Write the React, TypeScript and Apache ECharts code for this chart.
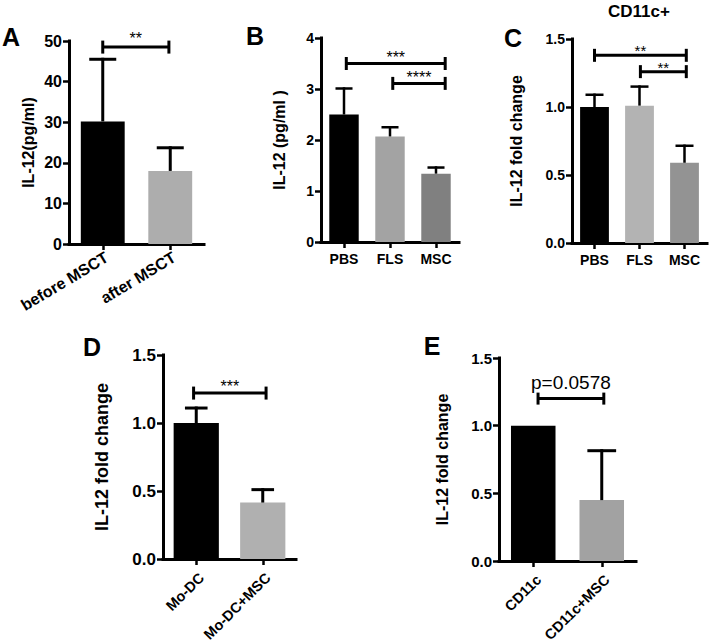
import React, { useEffect, useRef } from "react";
import * as echarts from "echarts";

const FONT = "'Liberation Sans', Arial, Helvetica, sans-serif";

// ---- Panel A ----
const catsA = ["before MSCT", "after MSCT"];
const meanA = [30.2, 18.0];
const semA = [15.3, 5.7];
const colorsA = ["#000000", "#adadad"];
const yTicksA = [0, 50, 10];
const sigA = [{ from: 0, to: 0.98, y: 48.5, label: "**" }];

// ---- Panel B ----
const catsB = ["PBS", "FLS", "MSC"];
const meanB = [2.5, 2.07, 1.34];
const semB = [0.51, 0.18, 0.12];
const colorsB = ["#000000", "#a3a3a3", "#808080"];
const yTicksB = [0, 4, 1];
const sigB = [
  { from: 0.05, to: 2.2, y: 3.5, label: "***" },
  { from: 1.06, to: 2.2, y: 3.11, label: "****" },
];

// ---- Panel C ----
const catsC = ["PBS", "FLS", "MSC"];
const meanC = [1.0, 1.01, 0.59];
const semC = [0.09, 0.14, 0.125];
const colorsC = ["#000000", "#b3b3b3", "#939393"];
const yTicksC = [0, 1.5, 0.5];
const sigC = [
  { from: 0, to: 2.04, y: 1.38, label: "**" },
  { from: 1.02, to: 2.04, y: 1.26, label: "**" },
];

// ---- Panel D ----
const catsD = ["Mo-DC", "Mo-DC+MSC"];
const meanD = [1.0, 0.415];
const semD = [0.11, 0.095];
const colorsD = ["#000000", "#b0b0b0"];
const yTicksD = [0, 1.5, 0.5];
const sigD = [{ from: -0.04, to: 1.05, y: 1.22, label: "***" }];

// ---- Panel E ----
const catsE = ["CD11c", "CD11c+MSC"];
const meanE = [1.0, 0.45];
const semE = [0, 0.365];
const colorsE = ["#000000", "#a2a2a2"];
const yTicksE = [0, 1.5, 0.5];
const sigE = [{ from: 0.07, to: 1.03, y: 1.2, label: "p=0.0578" }];

type Panel = {
  cats: string[];
  mean: number[];
  sem: number[];
  colors: string[];
  ticks: number[];
  sig: { from: number; to: number; y: number; label: string }[];
  grid: { left: number; top: number; width: number; height: number };
  yName: string;
  nameGap: number;
  nameSize: number;
  tickSize: number;
  catSize: number;
  rotate: number;
  catMargin: number;
  barWidth: string;
  capFrac: number;
  errLw: number;
  fmt?: (v: number) => string;
  sigFont: string;
  sigDy: number;
  sigTick: number;
};

const fold = (v: number) => v.toFixed(1);

const panels: Panel[] = [
  {
    cats: catsA, mean: meanA, sem: semA, colors: colorsA, ticks: yTicksA, sig: sigA,
    grid: { left: 69, top: 41, width: 135, height: 203 },
    yName: "IL-12(pg/ml)", nameGap: 33, nameSize: 16, tickSize: 16, catSize: 16, rotate: 31, catMargin: 5,
    barWidth: "65%", capFrac: 0.4, errLw: 3, sigFont: "normal 16px " + FONT, sigDy: 1, sigTick: 6.5,
  },
  {
    cats: catsB, mean: meanB, sem: semB, colors: colorsB, ticks: yTicksB, sig: sigB,
    grid: { left: 321, top: 38, width: 138, height: 204 },
    yName: "IL-12 (pg/ml )", nameGap: 34, nameSize: 16, tickSize: 14, catSize: 14, rotate: 0, catMargin: 10,
    barWidth: "64%", capFrac: 0.37, errLw: 2.5, sigFont: "normal 16px " + FONT, sigDy: -2, sigTick: 6.5,
  },
  {
    cats: catsC, mean: meanC, sem: semC, colors: colorsC, ticks: yTicksC, sig: sigC, fmt: fold,
    grid: { left: 572, top: 39, width: 135, height: 204 },
    yName: "IL-12 fold change", nameGap: 48, nameSize: 16, tickSize: 14, catSize: 14, rotate: 0, catMargin: 10,
    barWidth: "64%", capFrac: 0.4, errLw: 2.5, sigFont: "normal 15px " + FONT, sigDy: -3, sigTick: 6.5,
  },
  {
    cats: catsD, mean: meanD, sem: semD, colors: colorsD, ticks: yTicksD, sig: sigD, fmt: fold,
    grid: { left: 163, top: 355, width: 133, height: 204 },
    yName: "IL-12 fold change", nameGap: 52, nameSize: 18, tickSize: 17, catSize: 14.5, rotate: 45, catMargin: 11,
    barWidth: "68%", capFrac: 0.34, errLw: 3, sigFont: "normal 16px " + FONT, sigDy: -1, sigTick: 6.5,
  },
  {
    cats: catsE, mean: meanE, sem: semE, colors: colorsE, ticks: yTicksE, sig: sigE, fmt: fold,
    grid: { left: 499, top: 358, width: 137, height: 203 },
    yName: "IL-12 fold change", nameGap: 49, nameSize: 16, tickSize: 15, catSize: 14.5, rotate: 45, catMargin: 11,
    barWidth: "65%", capFrac: 0.42, errLw: 3, sigFont: "normal 19px " + FONT, sigDy: 7, sigTick: 6,
  },
];

const letters = [
  { t: "A", x: 11, y: 37 },
  { t: "B", x: 255, y: 36 },
  { t: "C", x: 513, y: 38 },
  { t: "D", x: 92, y: 347 },
  { t: "E", x: 432, y: 346 },
];

function buildOption() {
  const axisLine = { show: true, lineStyle: { color: "#000", width: 3, cap: "square" } };
  const axisTick = { show: true, length: 6, lineStyle: { color: "#000", width: 2.5 } };
  const grid: any[] = [];
  const xAxis: any[] = [];
  const yAxis: any[] = [];
  const series: any[] = [];

  panels.forEach((p, k) => {
    grid.push({ ...p.grid, containLabel: false, outerBoundsMode: "none" });
    const rotated: any = p.rotate
      ? { rotate: p.rotate, align: "right", verticalAlign: "top", margin: p.catMargin }
      : { margin: p.catMargin };
    xAxis.push({
      gridIndex: k,
      type: "category",
      data: p.cats,
      axisLine,
      axisTick: { ...axisTick, alignWithLabel: true },
      axisLabel: {
        interval: 0,
        ...rotated,
        color: "#000",
        fontSize: p.catSize,
        fontWeight: "bold",
        fontFamily: FONT,
      },
      splitLine: { show: false },
    });
    yAxis.push({
      gridIndex: k,
      type: "value",
      min: p.ticks[0],
      max: p.ticks[1],
      interval: p.ticks[2],
      axisLine,
      axisTick,
      axisLabel: {
        color: "#000",
        fontSize: p.tickSize,
        fontWeight: "bold",
        fontFamily: FONT,
        margin: 7,
        formatter: p.fmt ? (v: number) => p.fmt!(v) : (v: number) => String(v),
      },
      splitLine: { show: false },
      name: p.yName,
      nameLocation: "middle",
      nameRotate: 90,
      nameGap: p.nameGap,
      nameTextStyle: { color: "#000", fontSize: p.nameSize, fontWeight: "bold", fontFamily: FONT },
    });
    series.push({
      type: "bar",
      xAxisIndex: k,
      yAxisIndex: k,
      barWidth: p.barWidth,
      data: p.mean.map((v, i) => ({ value: v, itemStyle: { color: p.colors[i] } })),
      z: 2,
    });
    series.push({
      type: "custom",
      xAxisIndex: k,
      yAxisIndex: k,
      z: 3,
      data: p.mean.map((m, i) => [i, m + p.sem[i]]),
      renderItem: (params: any, api: any) => {
        const i = params.dataIndex;
        if (!(p.sem[i] > 0)) return { type: "group", children: [] };
        const base = api.coord([i, p.mean[i]]);
        const top = api.coord([i, p.mean[i] + p.sem[i]]);
        const half = (api.size([1, 0])[0] * p.capFrac) / 2;
        const st = { stroke: "#000", lineWidth: p.errLw };
        return {
          type: "group",
          children: [
            { type: "line", shape: { x1: base[0], y1: base[1], x2: top[0], y2: top[1] - p.errLw / 2 }, style: st },
            { type: "line", shape: { x1: top[0] - half, y1: top[1], x2: top[0] + half, y2: top[1] }, style: st },
          ],
        };
      },
    });
    series.push({
      type: "custom",
      xAxisIndex: k,
      yAxisIndex: k,
      z: 4,
      data: p.sig.map((b) => [0, b.y]),
      renderItem: (params: any, api: any) => {
        const b = p.sig[params.dataIndex];
        const o = api.coord([0, b.y]);
        const bw = api.size([1, 0])[0];
        const xa = o[0] + b.from * bw;
        const xb = o[0] + b.to * bw;
        const y = o[1];
        const st = { stroke: "#000", lineWidth: 3 };
        return {
          type: "group",
          children: [
            { type: "line", shape: { x1: xa, y1: y, x2: xb, y2: y }, style: st },
            { type: "line", shape: { x1: xa, y1: y - p.sigTick, x2: xa, y2: y + p.sigTick }, style: st },
            { type: "line", shape: { x1: xb, y1: y - p.sigTick, x2: xb, y2: y + p.sigTick }, style: st },
            {
              type: "text",
              x: (xa + xb) / 2,
              y: y - p.sigDy,
              style: {
                text: b.label,
                font: p.sigFont,
                fill: "#000",
                align: "center",
                verticalAlign: "bottom",
                textAlign: "center",
                textVerticalAlign: "bottom",
              },
            },
          ],
        };
      },
    });
  });

  const graphic: any[] = letters.map((l) => ({
    type: "text",
    x: l.x,
    y: l.y,
    style: {
      text: l.t,
      font: "bold 25px " + FONT,
      fill: "#000",
      align: "center",
      verticalAlign: "middle",
      textAlign: "center",
      textVerticalAlign: "middle",
    },
  }));
  graphic.push({
    type: "text",
    x: 639,
    y: 11,
    style: {
      text: "CD11c+",
      font: "bold 17px " + FONT,
      fill: "#000",
      align: "center",
      verticalAlign: "middle",
      textAlign: "center",
      textVerticalAlign: "middle",
    },
  });

  return {
    animation: false,
    backgroundColor: "#ffffff",
    textStyle: { fontFamily: FONT },
    grid,
    xAxis,
    yAxis,
    series,
    graphic,
  };
}

export default function App() {
  const ref = useRef<HTMLDivElement>(null);
  useEffect(() => {
    document.body.style.margin = "0";
    if (!ref.current) return;
    const chart = echarts.init(ref.current, undefined, { renderer: "svg" });
    chart.setOption(buildOption() as any);
    return () => chart.dispose();
  }, []);
  return (
    <div
      ref={ref}
      style={{ position: "absolute", left: 0, top: 0, width: 709, height: 643, background: "#fff" }}
    />
  );
}
